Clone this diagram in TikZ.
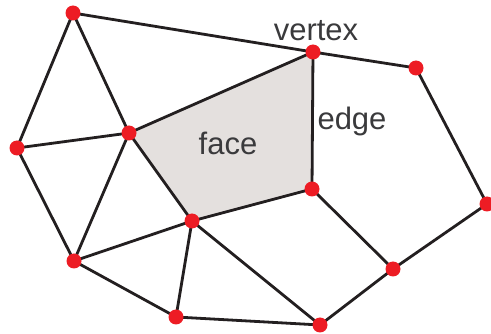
\documentclass[tikz,border=0pt]{standalone}
\usepackage{fontspec}
\setmainfont{Liberation Sans}
\definecolor{vred}{HTML}{ED1C24}
\definecolor{facefill}{HTML}{E4E0DE}
\definecolor{lbl}{HTML}{3A3A3C}
\definecolor{edgecol}{HTML}{231F20}
\begin{document}
\begin{tikzpicture}[x=1pt,y=-1pt,
  vtx/.style={circle,fill=vred,inner sep=0pt,minimum size=15pt},
  ln/.style={draw=edgecol,line width=2.8pt},
  lab/.style={text=lbl,font=\fontsize{31}{31}\selectfont,inner sep=0pt}]
\useasboundingbox (0,0) rectangle (491,334);
\coordinate (A) at (73,13);
\coordinate (B) at (313,52);
\coordinate (C) at (416,68);
\coordinate (D) at (17,148);
\coordinate (E) at (129,133);
\coordinate (F) at (312,189);
\coordinate (G) at (487,204);
\coordinate (H) at (192,221);
\coordinate (I) at (74,261);
\coordinate (J) at (393,269);
\coordinate (K) at (176,317);
\coordinate (L) at (320,325);
\fill[facefill] (E) -- (B) -- (F) -- (H) -- cycle;
\draw[ln] (A) -- (B) -- (C) -- (G) -- (J) -- (L) -- (K) -- (I) -- (D) -- (A);
\draw[ln] (A) -- (E) -- (D);
\draw[ln] (E) -- (I);
\draw[ln] (E) -- (B) -- (F) -- (H) -- (E);
\draw[ln] (F) -- (J);
\draw[ln] (H) -- (I);
\draw[ln] (H) -- (K);
\draw[ln] (H) -- (L);
\foreach \p in {A,B,C,D,E,F,G,H,I,J,K,L} \node[vtx] (v\p) at (\p) {};
\node[lab] (tv) at (316,31) {vertex};
\node[lab] (te) at (352,121) {edge};
\node[lab] (tf) at (228,143) {face};
\end{tikzpicture}
\end{document}
